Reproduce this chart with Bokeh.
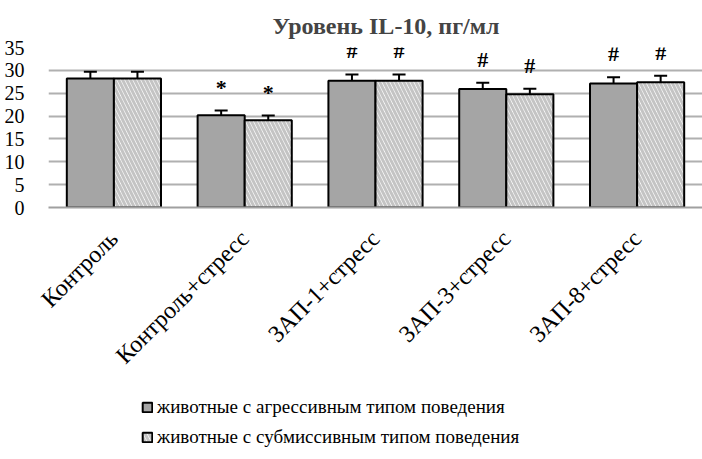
import math
from bokeh.plotting import figure
from bokeh.layouts import column
from bokeh.models import (ColumnDataSource, Range1d, FixedTicker, Whisker, TeeHead,
                          Legend, LegendItem)
from bokeh.core.properties import value
from bokeh.embed import file_html
from bokeh.resources import INLINE

# IL-10 level by group, pg/ml
categories = ["Контроль", "Контроль+стресс", "ЗАП-1+стресс", "ЗАП-3+стресс", "ЗАП-8+стресс"]
aggressive = [28.2, 20.2, 27.7, 25.9, 27.1]
aggressive_err = [1.5, 1.0, 1.4, 1.4, 1.4]
submissive = [28.2, 19.1, 27.7, 24.8, 27.4]
submissive_err = [1.5, 1.0, 1.4, 1.2, 1.4]
aggressive_marks = ["", "*", "#", "#", "#"]
submissive_marks = ["", "*", "#", "#", "#"]
series_names = ["животные с агрессивным типом поведения",
                "животные с субмиссивным типом поведения"]
y_ticks = [0, 5, 10, 15, 20, 25, 30, 35]

SERIF = "Liberation Serif"
BAR_W = 0.36
AGG_STYLE = dict(fill_color="#a5a5a5", line_color="black", line_width=2)
SUB_STYLE = dict(fill_color="white", line_color="black", line_width=2,
                 hatch_pattern="left_diagonal_line", hatch_color="#c4c4c4",
                 hatch_scale=8, hatch_weight=3)
idx = list(range(len(categories)))

p = figure(width=702, height=380, output_backend="svg", toolbar_location=None,
           x_range=Range1d(-0.5, len(categories) - 0.5), y_range=Range1d(0, 35),
           min_border_left=48, min_border_right=0, min_border_top=47,
           min_border_bottom=172)
p.outline_line_color = None
p.background_fill_color = "white"
p.border_fill_color = "white"

p.title.text = "Уровень IL-10, пг/мл"
p.title.text_font = SERIF
p.title.text_font_size = "24px"
p.title.text_font_style = "bold"
p.title.align = "left"
p.title.offset = 224
p.title.standoff = 18

def series_source(vals, errs, marks, shift):
    xs = [i + shift for i in idx]
    return ColumnDataSource(dict(
        x=xs, top=vals,
        upper=[v + e for v, e in zip(vals, errs)],
        lower=[v - e for v, e in zip(vals, errs)],
        mark=marks))

src_a = series_source(aggressive, aggressive_err, aggressive_marks, -BAR_W / 2)
src_s = series_source(submissive, submissive_err, submissive_marks, BAR_W / 2)

p.vbar(x="x", top="top", width=BAR_W, source=src_a, **AGG_STYLE)
p.vbar(x="x", top="top", width=BAR_W, source=src_s, **SUB_STYLE)

for src in (src_a, src_s):
    w = Whisker(base="x", upper="upper", lower="lower", source=src,
                line_color="black", line_width=2,
                upper_head=TeeHead(size=13, line_color="black", line_width=2),
                lower_head=TeeHead(size=13, line_color="black", line_width=2))
    p.add_layout(w)
    p.text(x="x", y="upper", text="mark", source=src, text_font=value(SERIF),
           text_font_size="22px", text_font_style="bold", text_align="center",
           text_baseline="bottom", y_offset=-11, text_color="black")

# axes
p.xaxis.ticker = FixedTicker(ticks=idx)
p.xaxis.major_label_overrides = {i: c for i, c in zip(idx, categories)}
p.xaxis.major_label_orientation = math.pi / 4
p.xaxis.major_label_text_font = SERIF
p.xaxis.major_label_text_font_size = "24px"
p.xaxis.major_label_text_color = "black"
p.xaxis.major_label_standoff = 21
p.xaxis.axis_line_color = "#a0a0a0"
p.xaxis.axis_line_width = 2
p.xaxis.major_tick_line_color = None
p.xaxis.minor_tick_line_color = None

p.yaxis.ticker = FixedTicker(ticks=y_ticks)
p.yaxis.major_label_text_font = SERIF
p.yaxis.major_label_text_font_size = "20px"
p.yaxis.major_label_text_color = "black"
p.yaxis.major_label_standoff = 18
p.yaxis.axis_line_color = None
p.yaxis.major_tick_line_color = None
p.yaxis.minor_tick_line_color = None

p.xgrid.grid_line_color = None
p.ygrid.grid_line_color = "#b0b0b0"
p.ygrid.grid_line_width = 2

# legend strip below the chart; the small swatch renderers sit under the
# opaque legend box, so only their legend entries show
lg = figure(width=702, height=79, output_backend="svg", toolbar_location=None,
            x_range=Range1d(0, 1), y_range=Range1d(0, 1),
            min_border_left=48, min_border_right=0,
            min_border_top=0, min_border_bottom=0)
lg.axis.visible = False
lg.grid.visible = False
lg.outline_line_color = None
lg.border_fill_color = "white"
ra = lg.vbar(x=[0.5], bottom=[0.45], top=[0.55], width=0.01, **AGG_STYLE)
rs = lg.vbar(x=[0.5], bottom=[0.45], top=[0.55], width=0.01, **SUB_STYLE)
legend = Legend(items=[LegendItem(label=series_names[0], renderers=[ra]),
                       LegendItem(label=series_names[1], renderers=[rs])],
                location=(93, 11), orientation="vertical",
                label_text_font=SERIF, label_text_font_size="19px",
                label_text_color="black", glyph_width=12, glyph_height=12,
                label_height=20, label_standoff=4, spacing=8, padding=0, margin=0,
                border_line_color=None, background_fill_color="white",
                background_fill_alpha=1)
lg.add_layout(legend)

open("out.html", "w").write(file_html(column(p, lg, spacing=0), INLINE))
